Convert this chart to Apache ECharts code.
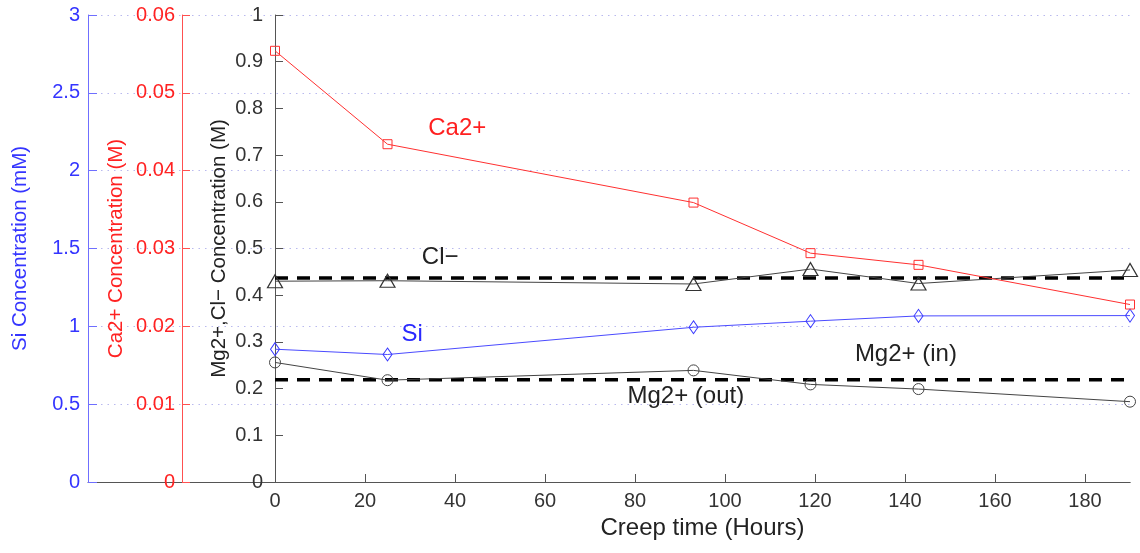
<!DOCTYPE html>
<html>
<head>
<meta charset="utf-8">
<title>Creep test solution chemistry</title>
<script src="https://cdn.jsdelivr.net/npm/echarts@6/dist/echarts.min.js"></script>
<style>
  html, body { margin: 0; padding: 0; background: #fff; }
  #chart { width: 1140px; height: 553px; }
</style>
</head>
<body>
<div id="chart"></div>
<script>
// Sampling times of the effluent (hours of creep)
const hours = [0, 25, 93, 119, 143, 190];
// Ca2+ concentration (M), plotted on the red axis
const ca = [0.0554, 0.0434, 0.0359, 0.0294, 0.0279, 0.0228];
// Si concentration (mM), plotted on the blue axis
const si = [0.853, 0.819, 0.994, 1.033, 1.067, 1.069];
// Cl- concentration (M), measured
const cl = [0.430, 0.431, 0.424, 0.456, 0.425, 0.454];
// Mg2+ concentration (M) in the outflow
const mgOut = [0.256, 0.218, 0.239, 0.209, 0.199, 0.172];
// Injected fluid composition (M), shown as dashed reference lines
const clIn = 0.437;
const mgIn = 0.219;
// X-axis tick positions
const xTicks = [0, 20, 40, 60, 80, 100, 120, 140, 160, 180];

// Text annotations placed in data coordinates (hours, main-axis value)
const notes = [
  { text: 'Ca2+', x: 40.5, y: 0.758, color: '#ff2020' },
  { text: 'Cl\u2212', x: 36.7, y: 0.481, color: '#222' },
  { text: 'Si', x: 30.5, y: 0.316, color: '#2a2aff' },
  { text: 'Mg2+ (in)', x: 140.2, y: 0.274, color: '#222' },
  { text: 'Mg2+ (out)', x: 91.3, y: 0.184, color: '#222' }
];

const FONT = '"Liberation Sans", Arial, Helvetica, sans-serif';
const BLUE = '#3535ff';
const RED = '#ff2222';
const AXIS_GRAY = '#555';

const pairs = (xs, ys) => xs.map((x, i) => [x, ys[i]]);
const flat = (v) => [[0, v], [190, v]];

const chart = echarts.init(document.getElementById('chart'), null, { renderer: 'canvas' });

const option = {
  backgroundColor: '#fff',
  animation: false,
  textStyle: { fontFamily: FONT },
  grid: [
    { left: 275, right: 10, top: 15, bottom: 71, containLabel: false },
    // wider backdrop grid: dotted gridlines and baseline from the Si axis onward
    { left: 88, right: 10, top: 15, bottom: 71, containLabel: false, z: 0 }
  ],
  xAxis: [
    {
      gridIndex: 0, type: 'value', min: 0, max: 190,
      name: 'Creep time (Hours)', nameLocation: 'middle', nameGap: 34, nameMoveOverlap: false,
      nameTextStyle: { fontSize: 24, color: '#222', fontFamily: FONT },
      axisLine: { show: true, lineStyle: { color: AXIS_GRAY, width: 1 } },
      axisTick: { show: true, inside: true, length: 8, customValues: xTicks, lineStyle: { color: AXIS_GRAY } },
      axisLabel: { show: true, customValues: xTicks, fontSize: 20, color: '#333', margin: 9, fontFamily: FONT },
      splitLine: { show: false }
    },
    {
      gridIndex: 1, type: 'value', min: 0, max: 1,
      axisLine: { show: true, lineStyle: { color: AXIS_GRAY, width: 1 } },
      axisTick: { show: false }, axisLabel: { show: false }, splitLine: { show: false }
    }
  ],
  yAxis: [
    {
      gridIndex: 0, type: 'value', min: 0, max: 1, interval: 0.1, position: 'left', offset: 0,
      name: 'Mg2+,Cl\u2212 Concentration (M)', nameLocation: 'middle', nameGap: 45, nameRotate: 90,
      nameMoveOverlap: false,
      nameTextStyle: { fontSize: 20.5, color: '#222', fontFamily: FONT },
      axisLine: { show: true, lineStyle: { color: AXIS_GRAY, width: 1 } },
      axisTick: { show: true, inside: true, length: 8, lineStyle: { color: AXIS_GRAY } },
      axisLabel: { fontSize: 20, color: '#333', margin: 12, fontFamily: FONT },
      splitLine: { show: false }
    },
    {
      gridIndex: 0, type: 'value', min: 0, max: 0.06, interval: 0.01, position: 'left', offset: 93,
      name: 'Ca2+ Concentration (M)', nameLocation: 'middle', nameGap: 55, nameRotate: 90,
      nameMoveOverlap: false,
      nameTextStyle: { fontSize: 20.5, color: RED, fontFamily: FONT },
      axisLine: { show: true, lineStyle: { color: '#ff5050', width: 1 } },
      axisTick: { show: true, inside: true, length: 8, lineStyle: { color: '#ff5050' } },
      axisLabel: { fontSize: 20, color: RED, margin: 7, fontFamily: FONT },
      splitLine: { show: false }
    },
    {
      gridIndex: 0, type: 'value', min: 0, max: 3, interval: 0.5, position: 'left', offset: 187,
      name: 'Si Concentration (mM)', nameLocation: 'middle', nameGap: 57, nameRotate: 90,
      nameMoveOverlap: false,
      nameTextStyle: { fontSize: 20.5, color: BLUE, fontFamily: FONT },
      axisLine: { show: true, lineStyle: { color: '#6f6fff', width: 1 } },
      axisTick: { show: true, inside: true, length: 9, lineStyle: { color: '#6f6fff' } },
      axisLabel: { fontSize: 20, color: BLUE, margin: 8, fontFamily: FONT },
      splitLine: { show: false }
    },
    {
      gridIndex: 1, type: 'value', min: 0, max: 3, interval: 0.5,
      axisLine: { show: false }, axisTick: { show: false }, axisLabel: { show: false },
      splitLine: { show: true, lineStyle: { color: '#b9b9ee', width: 1, type: [1.5, 5] } }
    }
  ],
  series: [
    {
      name: 'Cl\u2212 (in)', type: 'line', xAxisIndex: 0, yAxisIndex: 0,
      data: flat(clIn), symbol: 'none', silent: true, z: 3,
      lineStyle: { color: '#000', width: 3.5, type: [13, 9] }
    },
    {
      name: 'Mg2+ (in)', type: 'line', xAxisIndex: 0, yAxisIndex: 0,
      data: flat(mgIn), symbol: 'none', silent: true, z: 3,
      lineStyle: { color: '#000', width: 3.5, type: [13, 9] }
    },
    {
      name: 'Cl\u2212', type: 'line', xAxisIndex: 0, yAxisIndex: 0,
      data: pairs(hours, cl), symbol: 'triangle', symbolSize: [15, 13], z: 4,
      lineStyle: { color: '#444', width: 1 },
      itemStyle: { color: 'rgba(255,255,255,0)', borderColor: '#333', borderWidth: 1.2 }
    },
    {
      name: 'Mg2+ (out)', type: 'line', xAxisIndex: 0, yAxisIndex: 0,
      data: pairs(hours, mgOut), symbol: 'circle', symbolSize: 11, z: 4,
      lineStyle: { color: '#444', width: 1 },
      itemStyle: { color: 'rgba(255,255,255,0)', borderColor: '#444', borderWidth: 1 }
    },
    {
      name: 'Si', type: 'line', xAxisIndex: 0, yAxisIndex: 2,
      data: pairs(hours, si), symbol: 'diamond', symbolSize: [9, 13], z: 4,
      lineStyle: { color: '#4b4bff', width: 1 },
      itemStyle: { color: 'rgba(255,255,255,0)', borderColor: '#3a3aff', borderWidth: 1 }
    },
    {
      name: 'Ca2+', type: 'line', xAxisIndex: 0, yAxisIndex: 1,
      data: pairs(hours, ca), symbol: 'rect', symbolSize: 9, z: 4,
      lineStyle: { color: '#ff3030', width: 1 },
      itemStyle: { color: 'rgba(255,255,255,0)', borderColor: '#ff3030', borderWidth: 1 }
    }
  ]
};

chart.setOption(option);

// Place the series annotations through the chart's own coordinate system
chart.setOption({
  graphic: notes.map((n) => {
    const p = chart.convertToPixel({ xAxisIndex: 0, yAxisIndex: 0 }, [n.x, n.y]);
    return {
      type: 'text', x: p[0], y: p[1], z: 10,
      style: {
        text: n.text, fill: n.color, font: '24px ' + FONT,
        align: 'center', verticalAlign: 'middle'
      }
    };
  })
});
</script>
</body>
</html>
